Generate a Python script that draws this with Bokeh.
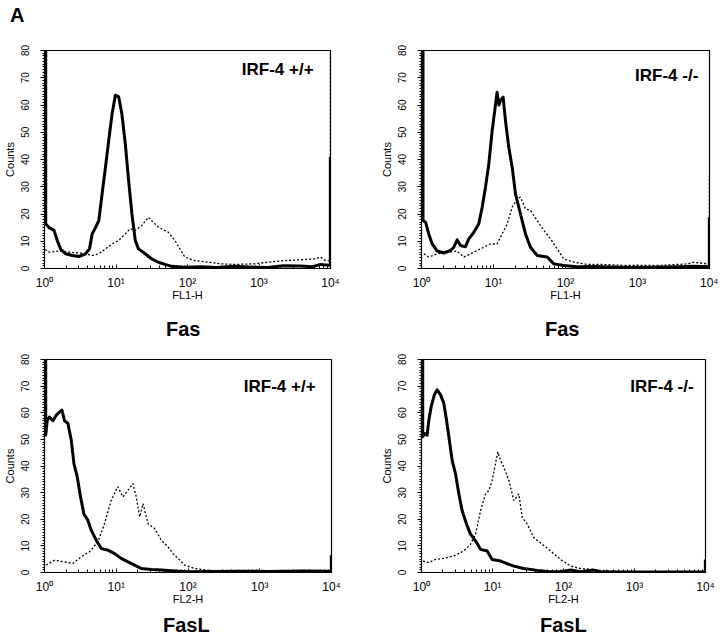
from bokeh.plotting import figure
from bokeh.models import Range1d, FixedTicker, CustomJSTickFormatter, Label, Div
from bokeh.layouts import column, row
from bokeh.embed import file_html
from bokeh.resources import INLINE

# ---------------- data ----------------
X_TICKS = [1, 10, 100, 1000, 10000]
Y_TICKS = [0, 10, 20, 30, 40, 50, 60, 70, 80]
PANEL_LABELS = ["IRF-4 +/+", "IRF-4 -/-", "IRF-4 +/+", "IRF-4 -/-"]
X_TITLES = ["FL1-H", "FL1-H", "FL2-H", "FL2-H"]
MARKERS = ["Fas", "Fas", "FasL", "FasL"]

FAS_WT_SOLID_X = [1.04, 1.04, 1.16, 1.36, 1.52, 1.69, 1.98, 2.45, 3.03, 3.75, 4.26, 4.64, 5.16, 5.75, 6.39,
                  7.11, 7.91, 8.80, 9.79, 10.9, 12.1, 13.5, 15.0, 16.7, 18.6, 20.6, 25.6, 31.6, 39.1, 48.4,
                  60, 90, 156, 250, 454, 800, 1318, 2200, 3830, 5500, 7260, 9480, 9950, 9950]
FAS_WT_SOLID_Y = [85, 16.4, 15, 14, 10, 7, 5.4, 4.8, 4.4, 5.4, 7.2, 12.7, 15, 17.6, 27.4,
                  37, 47, 56.6, 63.6, 63, 56.6, 45.7, 32.3, 20, 10.3, 7.2, 5.4, 3.5, 2.3, 1.5,
                  0.8, 0.5, 0.6, 0.4, 0.8, 0.5, 0.4, 1.0, 0.9, 0.6, 1.5, 1.2, 1.2, 41]
FAS_WT_DOT_X = [1.02, 1.16, 1.60, 2.20, 3.37, 4.64, 5.75, 7.11, 8.80, 10.9, 13.5, 15.8, 18.6, 23.0, 28.4,
                31.6, 39.1, 53.9, 66.7, 78.3, 91.8, 126, 194, 297, 454, 861, 1318, 2249, 3830, 5870,
                7260, 8530, 9480, 9980, 9980]
FAS_WT_DOT_Y = [7, 6, 6.4, 6, 5.6, 4.8, 5.4, 7.2, 9, 10.3, 12.7, 14.6, 14, 15.8, 18.8,
                17.5, 15.2, 13.3, 10.3, 7.2, 4.2, 2.9, 2.3, 1.7, 1.5, 1.7, 2.3, 2.9, 3.2, 3.5,
                4.2, 2.9, 2.9, 2.9, 85]

FAS_KO_SOLID_X = [1.05, 1.05, 1.14, 1.26, 1.41, 1.65, 2.04, 2.53, 2.81, 3.13, 3.48, 4.08, 4.54, 5.33, 6.25,
                  6.96, 7.74, 8.61, 9.58, 10.7, 11.2, 11.9, 12.5, 13.6, 14.7, 16.3, 18.2, 20.2, 23.7, 27.8,
                  32.6, 40.4, 55.6, 68.9, 94.8, 145, 248, 718, 2085, 6060, 9290, 9950, 9950]
FAS_KO_SOLID_Y = [85, 17.6, 17, 12.7, 9, 6.4, 5.7, 6.6, 7.8, 10.5, 8.4, 8, 10.9, 13.3, 16.4,
                  22.5, 29.8, 38.4, 50.6, 60.4, 64.7, 60, 61.7, 62.9, 54, 44.5, 37, 27.4, 20, 12.7,
                  7.8, 4.8, 4.2, 1.7, 1.1, 0.6, 0.7, 0.4, 0.5, 0.8, 0.6, 0.6, 18.8]
FAS_KO_DOT_X = [1.08, 1.26, 1.65, 2.27, 3.13, 3.87, 5.33, 6.59, 9.08, 11.2, 13.2, 15.5, 18.2, 21.3, 23.7,
                27.8, 32.6, 40.4, 50.0, 61.9, 76.6, 94.8, 131, 200, 306, 718, 2085, 4900, 6060, 9290,
                9980, 9980]
FAS_KO_DOT_Y = [5.4, 4.2, 5.4, 6, 6.4, 4.2, 6, 7.2, 9, 9, 12.7, 16.4, 22.5, 25.6, 26.2,
                21.9, 21.3, 17.6, 14, 10.9, 7.2, 3.5, 2.3, 1.5, 1.5, 1.1, 1.1, 1.7, 2.3, 1.7,
                1.7, 34.7]

FASL_WT_SOLID_X = [1.04, 1.04, 1.09, 1.17, 1.31, 1.45, 1.62, 1.75, 1.90, 2.12, 2.36, 2.57, 2.86, 3.18, 3.54,
                   4.02, 4.48, 5.26, 6.18, 7.65, 9.48, 11.7, 14.6, 18.0, 22.3, 30.8, 42.5, 65.2, 100, 448,
                   1306, 3811, 9480, 9950, 9950]
FASL_WT_SOLID_Y = [85, 51.6, 57, 58.4, 57, 59, 60.3, 61, 57, 56, 49.7, 40.9, 35.9, 28.4, 22,
                   19.6, 15.9, 12.1, 9, 8.4, 7.1, 5.3, 4, 2.8, 1.5, 1.1, 0.9, 0.6, 0.3, 0.5,
                   0.4, 0.6, 0.5, 0.5, 6.5]
FASL_WT_DOT_X = [1.05, 1.38, 1.90, 2.49, 3.25, 4.25, 5.55, 6.87, 8.51, 10.5, 12.4, 14.6, 17.1, 19.0, 21.2,
                 23.6, 27.7, 34.3, 42.5, 52.6, 61.8, 72.5, 89.8, 124, 190, 448, 9900]
FASL_WT_DOT_Y = [2.8, 4.6, 4, 3.4, 5.9, 7.8, 11.5, 18.4, 27.2, 32.2, 28.4, 30.9, 33.4, 28.4, 20.9,
                 25.9, 18.4, 16.5, 12.1, 9.6, 7.1, 5.3, 2.8, 1.5, 0.8, 0.5, 0.3]

FASL_KO_SOLID_X = [1.04, 1.04, 1.10, 1.20, 1.27, 1.37, 1.52, 1.66, 1.85, 2.06, 2.25, 2.43, 2.70, 3.01, 3.36,
                   3.74, 4.30, 4.90, 5.77, 6.78, 8.41, 9.89, 13.0, 16.1, 20.0, 27.6, 42.6, 58.9, 90.7, 126,
                   173, 267, 332, 789, 9480, 9950, 9950]
FASL_KO_SOLID_Y = [85, 51, 52.2, 51.6, 57.3, 62.3, 66.8, 68.6, 66.8, 63.6, 57.3, 51, 42.1, 37.1, 29.5,
                   23.2, 18.2, 14.4, 11.9, 8.7, 8.1, 4.9, 4.3, 3.3, 2.4, 1.5, 0.8, 0.4, 0.3, 0.9,
                   0.3, 0.9, 0.2, 0.2, 0.2, 0.2, 4.9]
FASL_KO_DOT_X = [1.05, 1.27, 1.57, 2.06, 2.85, 3.95, 4.90, 5.77, 6.78, 7.97, 8.87, 9.89, 11.0, 11.9, 13.0,
                 14.4, 17.0, 20.0, 23.5, 26.2, 30.8, 38.2, 50.1, 65.6, 90.7, 126, 173, 267, 412, 789,
                 9900]
FASL_KO_DOT_Y = [4.3, 3.7, 4.9, 5.3, 6.2, 8.1, 10.6, 14.4, 23.2, 29.5, 30.8, 34.6, 40.9, 45.3, 42.1,
                 39.6, 34.6, 27, 29.5, 20.7, 18.2, 13.1, 10.6, 8.1, 4.9, 2.4, 1.5, 1.1, 0.6, 0.3,
                 0.2]

SERIES = [
    (FAS_WT_SOLID_X, FAS_WT_SOLID_Y, FAS_WT_DOT_X, FAS_WT_DOT_Y),
    (FAS_KO_SOLID_X, FAS_KO_SOLID_Y, FAS_KO_DOT_X, FAS_KO_DOT_Y),
    (FASL_WT_SOLID_X, FASL_WT_SOLID_Y, FASL_WT_DOT_X, FASL_WT_DOT_Y),
    (FASL_KO_SOLID_X, FASL_KO_SOLID_Y, FASL_KO_DOT_X, FASL_KO_DOT_Y),
]

FONT = "Liberation Sans"
X_MINOR = [m * d for d in (1, 10, 100, 1000) for m in range(2, 10)]
Y_MINOR = list(range(0, 81, 1))

sup_formatter = CustomJSTickFormatter(code="""
const s = {0:'\u2070',1:'\u00b9',2:'\u00b2',3:'\u00b3',4:'\u2074'};
return '10' + s[Math.round(Math.log10(tick))];
""")

# per-panel frame geometry (borders in px)
GEOM = [
    dict(w=360, h=286, l=42, r=30, t=24, b=44),
    dict(w=358, h=286, l=61, r=9, t=24, b=44),
    dict(w=360, h=265, l=43, r=29, t=9, b=43),
    dict(w=358, h=265, l=61, r=13, t=9, b=43),
]


def make_panel(i):
    sx, sy, dx, dy = SERIES[i]
    g = GEOM[i]
    p = figure(width=g["w"], height=g["h"], x_axis_type="log", output_backend="svg",
               toolbar_location=None, x_range=Range1d(1, 10000), y_range=Range1d(0, 80),
               min_border_left=g["l"], min_border_right=g["r"],
               min_border_top=g["t"], min_border_bottom=g["b"])
    p.background_fill_color = "white"
    p.border_fill_color = "white"
    p.xgrid.visible = False
    p.ygrid.visible = False
    p.outline_line_color = "black"
    p.outline_line_width = 1.2

    p.line(dx, dy, line_color="black", line_width=1.3, line_dash="2 2")
    p.line(sx, sy, line_color="black", line_width=3, line_join="round")

    xa = p.xaxis[0]
    xa.ticker = FixedTicker(ticks=X_TICKS, minor_ticks=X_MINOR)
    xa.formatter = sup_formatter
    xa.major_tick_in = 4
    xa.major_tick_out = 0
    xa.minor_tick_in = 3
    xa.minor_tick_out = 0
    xa.major_label_standoff = 7
    xa.major_label_text_font = FONT
    xa.major_label_text_font_size = "12px"
    xa.major_label_text_color = "black"
    xa.axis_label = X_TITLES[i]
    xa.axis_label_text_font = FONT
    xa.axis_label_text_font_size = "11px"
    xa.axis_label_text_font_style = "normal"
    xa.axis_label_text_color = "black"
    xa.axis_label_standoff = -4
    xa.axis_line_color = "black"

    ya = p.yaxis[0]
    ya.ticker = FixedTicker(ticks=Y_TICKS, minor_ticks=Y_MINOR)
    ya.major_tick_in = 0
    ya.major_tick_out = 4
    ya.minor_tick_in = 0
    ya.minor_tick_out = 2
    ya.major_label_orientation = "vertical"
    ya.major_label_standoff = 12
    ya.major_label_text_font = FONT
    ya.major_label_text_font_size = "10px"
    ya.major_label_text_color = "black"
    ya.axis_label = "Counts"
    ya.axis_label_text_font = FONT
    ya.axis_label_text_font_size = "11px"
    ya.axis_label_text_font_style = "normal"
    ya.axis_label_text_color = "black"
    ya.axis_label_standoff = 2
    ya.axis_line_color = "black"

    lab_x = [5800, 7000, 6000, 6800][i]
    lab_y = [73, 71, 70, 70][i]
    p.add_layout(Label(x=lab_x, y=lab_y, text=PANEL_LABELS[i], text_align="right",
                       text_baseline="middle", text_font=FONT, text_font_size="17px",
                       text_font_style="bold", text_color="black"))
    return p


def caption(text, width, height, left, top):
    html = ('<div style="padding-left:%dpx;padding-top:%dpx;font-family:\'%s\';font-size:20px;'
            'font-weight:bold;line-height:20px;color:black;white-space:nowrap">%s</div>'
            % (left, top, FONT, text))
    return Div(text=html, width=width, height=height, margin=(0, 0, 0, 0))


p1 = make_panel(0)
p2 = make_panel(1)
p3 = make_panel(2)
p4 = make_panel(3)

header = Div(text="A", width=80, height=26, margin=(0, 0, 0, 0),
             styles={"font-family": FONT, "font-size": "20px", "font-weight": "bold",
                     "line-height": "20px", "padding-top": "5px", "padding-left": "10px",
                     "color": "black"})

fas_row = row(caption(MARKERS[0], 360, 38, 166, 7), caption(MARKERS[1], 358, 38, 185, 7))
fasl_row = row(caption(MARKERS[2], 360, 20, 163, 0), caption(MARKERS[3], 358, 20, 180, 0))

layout = column(header, row(p1, p2), fas_row, row(p3, p4), fasl_row)

open("out.html", "w").write(file_html(layout, INLINE))
